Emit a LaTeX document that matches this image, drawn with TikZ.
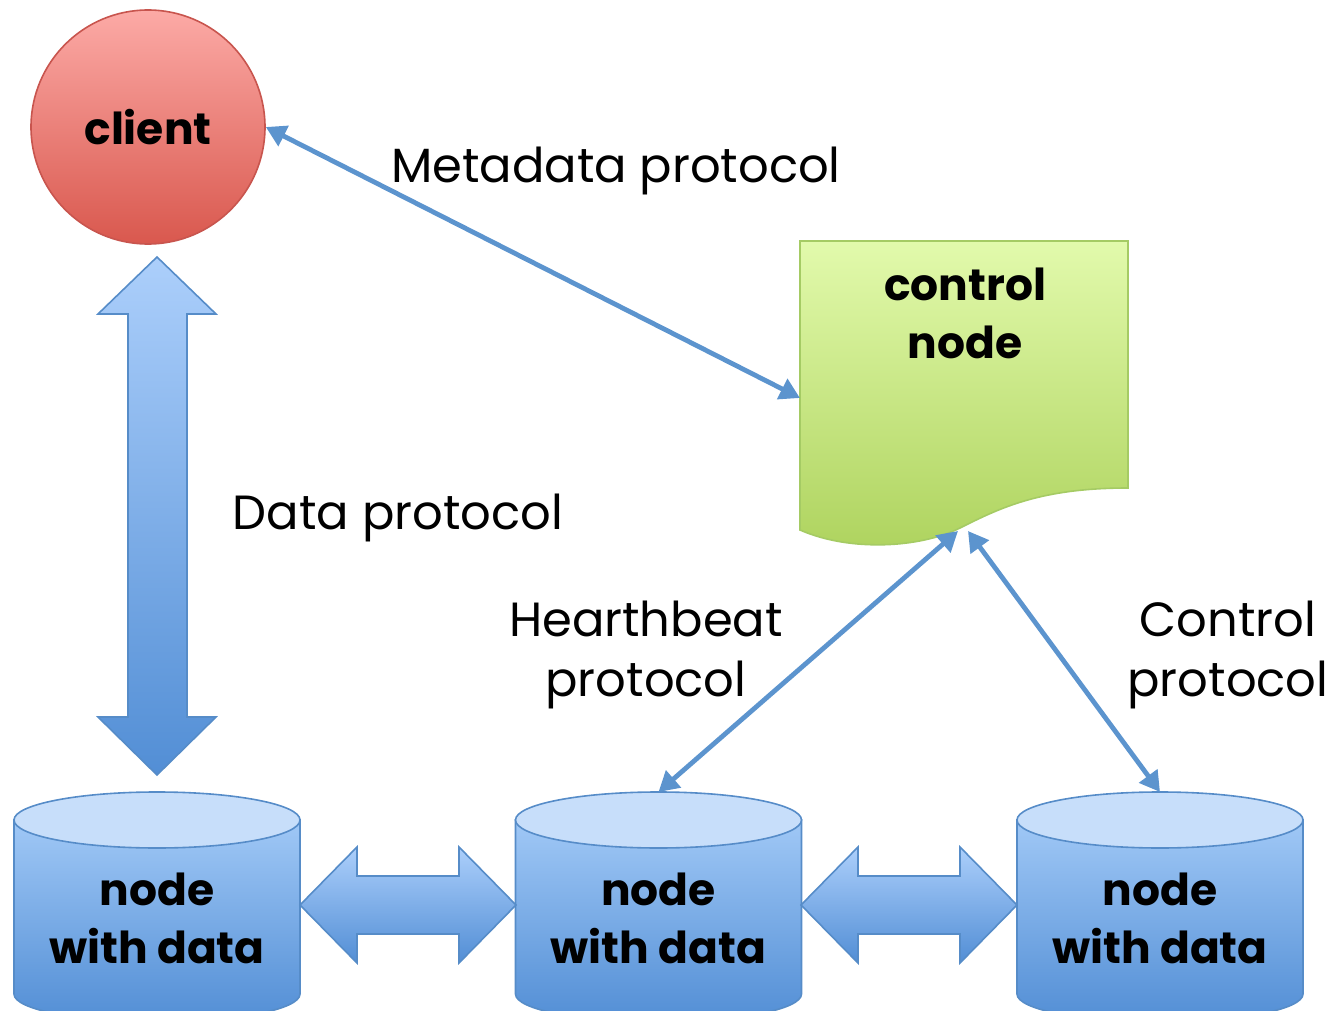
\documentclass[tikz,border=0pt]{standalone}
\usepackage{fontspec}
\setmainfont{Poppins}
\usetikzlibrary{arrows.meta}
\definecolor{lineblue}{RGB}{92,148,206}
\definecolor{arrowtop}{RGB}{172,207,251}
\definecolor{arrowbot}{RGB}{82,142,213}
\definecolor{cylrim}{RGB}{86,140,200}
\definecolor{cyltopfill}{RGB}{199,222,250}
\definecolor{cylbodytop}{RGB}{160,200,246}
\definecolor{clienttop}{RGB}{252,170,166}
\definecolor{clientbot}{RGB}{217,88,78}
\definecolor{clientrim}{RGB}{200,85,78}
\definecolor{ctrltop}{RGB}{226,250,172}
\definecolor{ctrlbot}{RGB}{174,211,94}
\definecolor{ctrlrim}{RGB}{165,203,100}

\begin{document}
\begin{tikzpicture}[x=0.5pt,y=-0.5pt,
 lbl/.style={inner sep=0,align=center,font=\fontsize{24}{30}\selectfont},
 boldlbl/.style={inner sep=0,align=center,font=\bfseries\fontsize{22}{29}\selectfont},
 link/.style={draw=lineblue,line width=2.4pt,
   {Triangle[length=10pt,width=11pt]}-{Triangle[length=10pt,width=11pt]}},
 bigarrow/.style={draw=cylrim,line width=0.8pt,top color=arrowtop,bottom color=arrowbot},
 cylbody/.style={draw=cylrim,line width=0.8pt,top color=cylbodytop,bottom color=arrowbot},
 cyltop/.style={draw=cylrim,line width=0.8pt,fill=cyltopfill}]
\useasboundingbox (0,0) rectangle (1335,1011);
% client
\node[circle,minimum size=117pt,inner sep=0,draw=clientrim,line width=0.8pt,
  top color=clienttop,bottom color=clientbot,font=\bfseries\fontsize{22}{29}\selectfont]
  (client) at (148,127) {client};
% control node (document shape)
\shade[draw=ctrlrim,line width=0.8pt,top color=ctrltop,bottom color=ctrlbot]
  (800,241) -- (1128,241) -- (1128,488)
  .. controls (1040,488) and (1000,508) .. (960,528)
  .. controls (920,548) and (850,552) .. (800,530) -- cycle;
\node[boldlbl] (ctrl) at (965,313) {control\\node};
\coordinate (ctrlW) at (800,398);
\coordinate (ctrlS1) at (958,531);
\coordinate (ctrlS2) at (968,531);
% nodes with data
\foreach \c/\n in {157/1,658.5/2,1160/3} {
  \shade[cylbody] (\c-143,820) -- (\c-143,994)
    arc[start angle=180,end angle=0,x radius=143,y radius=28] -- (\c+143,820) -- cycle;
  \filldraw[cyltop] (\c,820) ellipse[x radius=143,y radius=28];
  \node[boldlbl] (data\n) at (\c,918) {node\\with data};
  \coordinate (top\n) at (\c,792);
}
% block arrows
\shade[bigarrow] (157,257) -- (216,314) -- (187,314) -- (187,717) -- (216,717)
  -- (157,775) -- (98,717) -- (128,717) -- (128,314) -- (98,314) -- cycle;
\foreach \a in {300,801} {
  \shade[bigarrow] (\a,905) -- (\a+57,847) -- (\a+57,876) -- (\a+159,876) -- (\a+159,847)
    -- (\a+216,905) -- (\a+159,963) -- (\a+159,934) -- (\a+57,934) -- (\a+57,963) -- cycle;
}
% protocols
\draw[link] (client.east) -- (ctrlW);
\draw[link] (ctrlS1) -- (top2);
\draw[link] (ctrlS2) -- (top3);
\node[lbl] (meta) at (616,171) {Metadata protocol};
\node[lbl] (dataproto) at (398,518) {Data protocol};
\node[lbl] (heart) at (646,655) {Hearthbeat\\protocol};
\node[lbl] (ctrlproto) at (1228,655) {Control\\protocol};
\end{tikzpicture}
\end{document}
